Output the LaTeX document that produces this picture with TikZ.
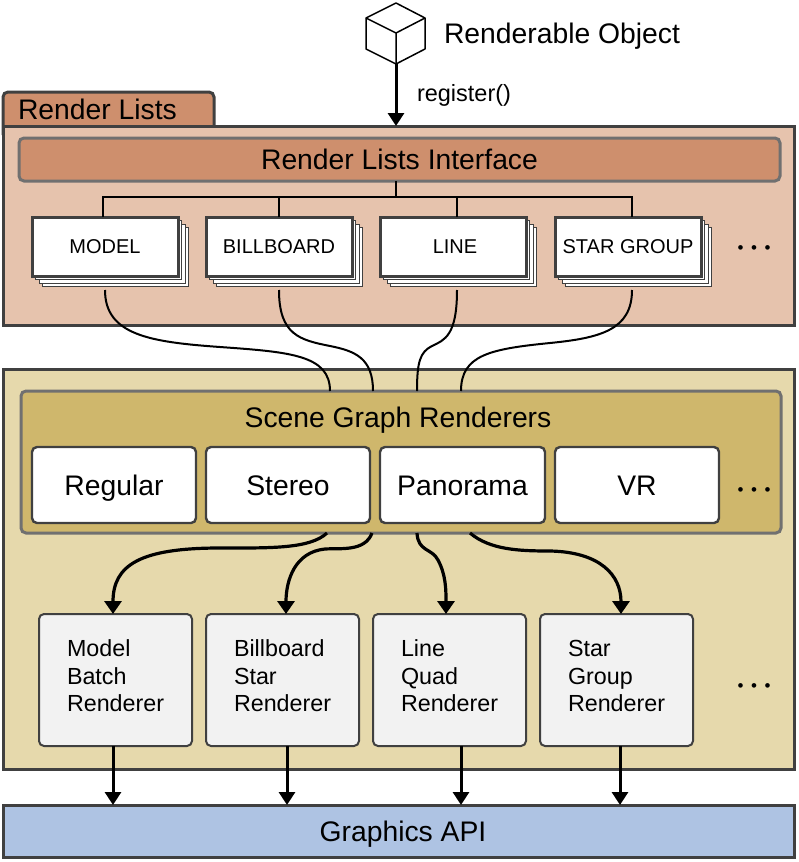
\documentclass[tikz,border=0pt]{standalone}
\usepackage{fontspec}
\setmainfont{Liberation Sans}
\usetikzlibrary{arrows.meta}
\definecolor{dk}{HTML}{404040}
\definecolor{gy}{HTML}{707070}
\definecolor{rlfill}{HTML}{E6C3AD}
\definecolor{rlhead}{HTML}{CE8F6D}
\definecolor{sgfill}{HTML}{E6D9AC}
\definecolor{sghead}{HTML}{CFB76C}
\definecolor{apifill}{HTML}{AEC3E3}
\definecolor{lowfill}{HTML}{F2F2F2}
\tikzset{
  x=1pt,y=-1pt,
  base/.style={inner sep=0pt,outer sep=0pt,text=black},
  bigtext/.style={font=\fontsize{28.3}{31}\selectfont,text height=20.3pt,text depth=0pt},
  panel/.style={base,draw=dk,line width=3pt},
  head/.style={base,bigtext,draw=gy,line width=3pt,rounded corners=5pt},
  listbox/.style={panel,fill=white,minimum width=146pt,minimum height=59pt,font=\fontsize{20}{22}\selectfont,text height=14.3pt,text depth=0pt},
  page/.style={draw=dk,line width=1pt,fill=white},
  sgbox/.style={panel,bigtext,line width=2.4pt,fill=white,rounded corners=5pt,minimum height=76pt},
  lowbox/.style={inner sep=0pt,outer sep=0pt,draw=dk,line width=2pt,rounded corners=5pt,fill=lowfill,minimum width=153pt,minimum height=132pt,text width=97pt,align=left,font=\fontsize{23.3}{27.5}\selectfont,text height=16.5pt,text depth=63.5pt},
  lbl/.style={base,bigtext},
  dotsnode/.style={inner sep=0pt,outer sep=0pt,font=\fontsize{17}{17}\selectfont},
  thinlink/.style={draw=black,line width=2pt},
  thicklink/.style={draw=black,line width=3.2pt,-{Triangle[length=13pt,width=17pt]}},
  straight/.style={draw=black,line width=3pt,-{Triangle[length=13pt,width=16pt]}},
}
\newcommand{\threedots}{\makebox[13.5pt]{•}\makebox[13.5pt]{•}\makebox[13.5pt]{•}}
\begin{document}
\begin{tikzpicture}
\useasboundingbox (0,0) rectangle (798,862);
% cube
\draw[black,line width=1.5pt,line join=round,fill=white] (396,3)--(425,18)--(425,49)--(396,64)--(366,49)--(366,18)--cycle;
\draw[black,line width=1.5pt,line join=round] (366,18)--(396,33)--(425,18) (396,33)--(396,64);
\coordinate (cubebottom) at (396,64);
\node[lbl,anchor=west] (objlabel) at (444,33) {Renderable Object};
% tab + render lists panel
\draw[dk,line width=3pt,fill=rlhead,rounded corners=5pt] (3,135)--(3,92)--(214,92)--(214,135);
\node[panel,fill=rlfill,minimum width=791pt,minimum height=199pt] (rl) at (398.5,225.5) {};
\node[lbl,anchor=west] (tablabel) at (18,109.5) {Render Lists};
\node[head,fill=rlhead,minimum width=761pt,minimum height=43pt] (rli) at (399.5,159.5) {Render Lists Interface};
% stacked pages
\foreach \l in {32,206,380,555}{
  \foreach \o in {10.5,7,3.5}{
    \draw[page] (\l+\o,217+\o) rectangle (\l+146+\o,276+\o);
  }
}
\node[listbox] (model) at (105,246.5) {MODEL};
\node[listbox] (bill) at (279,246.5) {BILLBOARD};
\node[listbox] (line) at (453,246.5) {\hspace*{4pt}LINE};
\node[listbox] (star) at (628,246.5) {STAR GROUP};
\node[dotsnode] (dots1) at (754,250) {\threedots};
% bus
\coordinate (bus) at (396,197);
\coordinate (t1) at ([xshift=-2pt]model.north);
\coordinate (t2) at (bill.north);
\coordinate (t3) at ([xshift=4pt]line.north);
\coordinate (t4) at ([xshift=4pt]star.north);
\draw[thinlink] (rli.south -| bus) -- (bus);
\draw[thinlink] (t1) -- (t1 |- bus) -- (t4 |- bus) -- (t4);
\draw[thinlink] (t2) -- (t2 |- bus);
\draw[thinlink] (t3) -- (t3 |- bus);
\draw[straight] (cubebottom) -- (rl.north -| cubebottom);
\node[base,anchor=west,font=\fontsize{23.5}{26}\selectfont,text height=16.8pt,text depth=0pt] (reglabel) at (417,93) {register()};
% scene panel
\node[panel,fill=sgfill,minimum width=791pt,minimum height=400pt] (scene) at (398.5,569) {};
\node[base,draw=gy,line width=3pt,rounded corners=5pt,fill=sghead,minimum width=760pt,minimum height=142pt] (sg) at (401,462) {};
\node[lbl] (sglabel) at (398,417) {Scene Graph Renderers};
\node[sgbox,minimum width=164pt] (regular) at (114,485) {Regular};
\node[sgbox,minimum width=164pt] (stereo) at (288,485) {Stereo};
\node[sgbox,minimum width=165pt] (pano) at (462.5,485) {Panorama};
\node[sgbox,minimum width=164pt] (vr) at (637,485) {VR};
\node[dotsnode] (dots2) at (754,492) {\threedots};
% low boxes
\node[lowbox] (mb) at (115.5,680) {Model\\Batch\\Renderer};
\node[lowbox] (bs) at (282.5,680) {Billboard\\Star\\Renderer};
\node[lowbox] (lq) at (449.5,680) {Line\\Quad\\Renderer};
\node[lowbox] (sr) at (616.5,680) {Star\\Group\\Renderer};
\node[dotsnode] (dots3) at (754,688) {\threedots};
% api
\node[panel,bigtext,fill=apifill,minimum width=791pt,minimum height=52pt] (api) at (398.5,831) {\hspace*{9pt}Graphics API};
% list to sg links
\coordinate (m1) at (105,290);\coordinate (m2) at (279,290);\coordinate (m3) at (457,290);\coordinate (m4) at (632,290);
\draw[thinlink] (m1) .. controls (105,335) and (150,342) .. (220,347) .. controls (290,352) and (330,355) .. ([xshift=-71pt]sg.north);
\draw[thinlink] (m2) .. controls (279,335) and (300,340) .. (330,346) .. controls (355,351) and (373,358) .. ([xshift=-28pt]sg.north);
\draw[thinlink] (m3) .. controls (457,335) and (445,340) .. (432,346) .. controls (420,352) and (417,362) .. ([xshift=16pt]sg.north);
\draw[thinlink] (m4) .. controls (632,330) and (600,338) .. (550,343) .. controls (490,349) and (461,355) .. ([xshift=60pt]sg.north);
% sg to renderers
\draw[thicklink] ([xshift=-74pt]sg.south) .. controls (310,549) and (270,548) .. (220,548) .. controls (140,548) and (113,565) .. ([xshift=-2.5pt]mb.north);
\draw[thicklink] ([xshift=-29pt]sg.south) .. controls (365,552) and (340,548) .. (325,549) .. controls (295,552) and (286,580) .. ([xshift=3.5pt]bs.north);
\draw[thicklink] ([xshift=16pt]sg.south) .. controls (418,552) and (432,548) .. (438,560) .. controls (446,575) and (446,590) .. ([xshift=-3.5pt]lq.north);
\draw[thicklink] ([xshift=69pt]sg.south) .. controls (490,550) and (520,551) .. (550,551) .. controls (600,552) and (621,575) .. ([xshift=4.5pt]sr.north);
% down arrows
\coordinate (d1) at ([xshift=-2.5pt]mb.south);
\coordinate (d2) at ([xshift=4.5pt]bs.south);
\coordinate (d3) at ([xshift=11.5pt]lq.south);
\coordinate (d4) at ([xshift=3.5pt]sr.south);
\draw[straight] (d1) -- (api.north -| d1);
\draw[straight] (d2) -- (api.north -| d2);
\draw[straight] (d3) -- (api.north -| d3);
\draw[straight] (d4) -- (api.north -| d4);
\end{tikzpicture}
\end{document}
